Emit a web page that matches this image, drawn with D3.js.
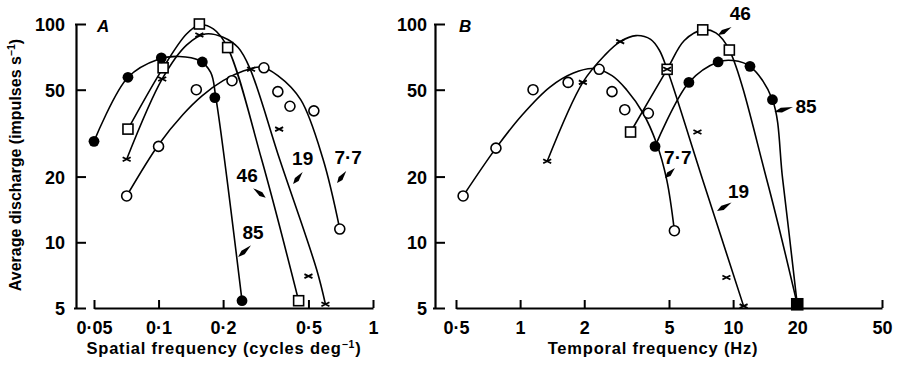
<!DOCTYPE html>
<html>
<head>
<meta charset="utf-8">
<script src="https://cdn.jsdelivr.net/npm/d3@7"></script>
<style>
  html, body { margin: 0; padding: 0; background: #fff; }
  svg { display: block; }
  text { font-family: "Liberation Sans", Arial, Helvetica, sans-serif; font-weight: bold; fill: #000; }
</style>
</head>
<body>
<script>
// ---------------- DATA ----------------
const aXTicks = [0.05, 0.1, 0.2, 0.5, 1];
const bXTicks = [0.5, 1, 2, 5, 10, 20, 50];
const yTicks = [5, 10, 20, 50, 100];

// Panel A: spatial frequency (cycles deg^-1) vs average discharge (impulses s^-1)
const aSF85 = [0.05, 0.072, 0.103, 0.16, 0.183, 0.245];
const aR85  = [29, 57, 70, 67, 46, 5.4];
const aSF46 = [0.072, 0.105, 0.155, 0.21, 0.45];
const aR46  = [33, 63, 100, 78, 5.4];
const aSF19 = [0.071, 0.104, 0.155, 0.27, 0.365, 0.5, 0.6];
const aR19  = [24, 56, 89, 62, 33, 7, 5.2];
const aSF77 = [0.071, 0.1, 0.15, 0.22, 0.31, 0.36, 0.41, 0.53, 0.7];
const aR77  = [16.3, 27.5, 50, 55, 63, 49, 42, 40, 11.5];

// hand-fitted curves
const aFitX85 = [0.05, 0.072, 0.1, 0.125, 0.155, 0.175, 0.185, 0.245];
const aFitY85 = [29, 57, 69, 71, 68, 60, 46, 5.4];
const aFitX46 = [0.072, 0.105, 0.135, 0.155, 0.18, 0.21, 0.303, 0.45];
const aFitY46 = [33, 63, 90, 99, 95, 78, 23.8, 5.4];
const aFitX19 = [0.071, 0.104, 0.135, 0.165, 0.2, 0.235, 0.266, 0.368, 0.546, 0.6];
const aFitY19 = [24, 56, 80, 90, 87, 78, 63, 23.8, 7.5, 5.2];
const aFitX77 = [0.071, 0.1, 0.13, 0.16, 0.2, 0.25, 0.3, 0.36, 0.46, 0.585, 0.7];
const aFitY77 = [16.3, 28, 38.5, 47, 55, 61, 63.5, 58, 45, 24, 11.5];

// Panel B: temporal frequency (Hz)
const bTF77 = [0.54, 0.77, 1.15, 1.68, 2.35, 2.7, 3.1, 4.0, 5.3];
const bR77  = [16.3, 27, 50, 54, 62, 49, 40.5, 39, 11.3];
const bTF19 = [1.34, 1.97, 2.95, 4.9, 6.8, 9.3, 11.2];
const bR19  = [23.5, 54, 83, 62, 32, 6.9, 5.1];
const bTF46 = [3.3, 4.9, 7.2, 9.6, 20];
const bR46  = [32, 62, 94, 76, 5.2];
const bTF85 = [4.3, 6.2, 8.5, 12, 15.3, 20];
const bR85  = [27.5, 54, 67, 64, 45, 5.2];

const bFitX77 = [0.54, 0.77, 1.02, 1.38, 1.78, 2.2, 2.7, 3.16, 3.78, 4.37, 4.88, 5.3];
const bFitY77 = [16.3, 27, 38.2, 51.4, 59.6, 62.5, 58, 50, 39, 28.4, 19.3, 11.3];
const bFitX19 = [1.34, 1.97, 2.5, 2.95, 3.5, 4.1, 4.5, 4.9, 7.2, 11.2];
const bFitY19 = [23.5, 54, 72, 83, 88.5, 85, 76, 62, 19.3, 5.1];
const bFitX46 = [3.3, 4.9, 5.9, 7.2, 8.3, 9.6, 14.4, 20];
const bFitY46 = [32, 62, 84, 94, 91, 76, 19.3, 5.2];
const bFitX85 = [4.3, 6.2, 8.5, 10, 12, 15.3, 17.1, 20];
const bFitY85 = [27.5, 54, 67, 68, 64, 45, 19.3, 5.2];

// curve labels: text, label centre, pointer from (x1,y1) to (x2,y2) — in data units
const aLabels = ["85", "46", "19", "7·7"];
const aLabelX = [0.276, 0.259, 0.47, 0.766];
const aLabelY = [11.1, 20.3, 24.4, 24.6];
const aPtrX1 = [0.27, 0.276, 0.47, 0.75];
const aPtrY1 = [9.7, 17.7, 21.0, 21.2];
const aPtrX2 = [0.235, 0.316, 0.424, 0.68];
const aPtrY2 = [8.57, 16.0, 18.5, 18.7];

const bLabels = ["46", "85", "7·7", "19"];
const bLabelX = [10.8, 22.0, 5.5, 10.6];
const bLabelY = [112, 42.1, 24.6, 17.2];
const bPtrX1 = [9.83, 19.1, 5.33, 9.83];
const bPtrY1 = [96.9, 41.7, 21.9, 15.2];
const bPtrX2 = [8.49, 15.6, 4.79, 8.4];
const bPtrY2 = [89.0, 39.5, 19.7, 13.9];

// ---------------- DRAW ----------------
const W = 901, H = 365;
const svg = d3.select("body").append("svg").attr("width", W).attr("height", H);

const y = d3.scaleLog().domain([5, 100]).range([308, 24]);
const fmt = d => String(d).replace(".", "·");
const zip = (xs, ys) => xs.map((v, i) => [v, ys[i]]);

const panels = [
  {
    x: d3.scaleLog().domain([0.05, 1]).range([94, 373]),
    xTicks: aXTicks, yAxisX: 76, yPad: 11, letter: "A",
    title: "Spatial frequency (cycles deg", titleSup: "−1", titleEnd: ")", titleX: 224,
    series: [
      {pts: zip(aSF77, aR77), fit: zip(aFitX77, aFitY77), sym: "openCircle"},
      {pts: zip(aSF46, aR46), fit: zip(aFitX46, aFitY46), sym: "openSquare"},
      {pts: zip(aSF85, aR85), fit: zip(aFitX85, aFitY85), sym: "filledCircle"},
      {pts: zip(aSF19, aR19), fit: zip(aFitX19, aFitY19), sym: "cross"}
    ],
    labels: aLabels.map((t, i) => ({t, x: aLabelX[i], y: aLabelY[i], x1: aPtrX1[i], y1: aPtrY1[i], x2: aPtrX2[i], y2: aPtrY2[i]}))
  },
  {
    x: d3.scaleLog().domain([0.5, 50]).range([456, 882]),
    xTicks: bXTicks, yAxisX: 435, yPad: 8, letter: "B",
    title: "Temporal frequency (Hz)", titleSup: "", titleEnd: "", titleX: 653,
    series: [
      {pts: zip(bTF77, bR77), fit: zip(bFitX77, bFitY77), sym: "openCircle"},
      {pts: zip(bTF46, bR46), fit: zip(bFitX46, bFitY46), sym: "openSquare"},
      {pts: zip(bTF85, bR85), fit: zip(bFitX85, bFitY85), sym: "filledCircle"},
      {pts: zip(bTF19, bR19), fit: zip(bFitX19, bFitY19), sym: "cross"}
    ],
    labels: bLabels.map((t, i) => ({t, x: bLabelX[i], y: bLabelY[i], x1: bPtrX1[i], y1: bPtrY1[i], x2: bPtrX2[i], y2: bPtrY2[i]}))
  }
];

function coincidentSquare(p, d) {
  const sq = p.series.find(s => s.sym === "openSquare").pts;
  return sq.some(f => f[0] === d[0] && f[1] === d[1]);
}

panels.forEach(p => {
  const g = svg.append("g");
  const x = p.x;

  const ya = g.append("g").attr("transform", `translate(${p.yAxisX},0)`)
    .call(d3.axisLeft(y).tickValues(yTicks).tickFormat(fmt).tickSize(-10).tickSizeOuter(0).tickPadding(p.yPad));
  const xa = g.append("g").attr("transform", `translate(0,308)`)
    .call(d3.axisBottom(x).tickValues(p.xTicks).tickFormat(fmt).tickSize(-8).tickSizeOuter(0).tickPadding(13));
  [ya, xa].forEach(a => {
    a.select(".domain").attr("stroke", "#000").attr("stroke-width", 2.2);
    a.selectAll(".tick line").attr("stroke", "#000").attr("stroke-width", 2);
    a.selectAll(".tick text").style("font-size", "18px").style("font-weight", "bold")
      .style("font-family", '"Liberation Sans", Arial, sans-serif').attr("fill", "#000");
  });
  ya.selectAll(".tick text").attr("dy", "0.36em");
  ya.selectAll(".tick").filter(d => d === 5).select("line").attr("x1", -2);
  ya.selectAll(".tick").filter(d => d === 100).select("line").attr("x1", -1);
  xa.selectAll(".tick").filter((d, i) => i === 0).select("line").attr("y1", 1);

  g.append("text").attr("x", x(p.xTicks[0]) + 3).attr("y", 32)
    .style("font-size", "17px").style("font-style", "italic").text(p.letter);

  const t = g.append("text").attr("x", p.titleX).attr("y", 354).attr("text-anchor", "middle")
    .style("font-size", "16.5px").style("letter-spacing", "0.8px");
  t.append("tspan").text(p.title);
  if (p.titleSup) {
    t.append("tspan").attr("dy", -6).style("font-size", "10.5px").text(p.titleSup);
    t.append("tspan").attr("dy", 6).text(p.titleEnd);
  }

  const line = d3.line().x(d => x(d[0])).y(d => y(d[1])).curve(d3.curveCatmullRom.alpha(0.5));
  p.series.forEach(s => {
    g.append("path").attr("d", line(s.fit)).attr("fill", "none")
      .attr("stroke", "#000").attr("stroke-width", 1.6);
  });

  const filledPts = p.series.find(s => s.sym === "filledCircle").pts;
  const coincident = d => filledPts.some(f => f[0] === d[0] && f[1] === d[1]);
  ["openSquare", "openCircle", "filledCircle", "cross"].forEach(sym => {
    const s = p.series.find(q => q.sym === sym);
    s.pts.forEach(d => {
      const cx = x(d[0]), cy = y(d[1]);
      if (sym === "openCircle") {
        g.append("circle").attr("cx", cx).attr("cy", cy).attr("r", 5)
          .attr("fill", "#fff").attr("stroke", "#000").attr("stroke-width", 1.6);
      } else if (sym === "filledCircle") {
        if (coincidentSquare(p, d)) return;
        g.append("circle").attr("cx", cx).attr("cy", cy).attr("r", 5.4).attr("fill", "#000");
      } else if (sym === "openSquare") {
        const filled = coincident(d);
        const sz = filled ? 11 : 10;
        g.append("rect").attr("x", cx - sz / 2).attr("y", cy - sz / 2).attr("width", sz).attr("height", sz)
          .attr("fill", filled ? "#000" : "#fff").attr("stroke", "#000").attr("stroke-width", 1.6);
      } else if (sym === "cross") {
        g.append("path").attr("d", `M${cx - 4},${cy - 2}L${cx + 4},${cy + 2}M${cx - 4},${cy + 2}L${cx + 4},${cy - 2}`)
          .attr("stroke", "#000").attr("stroke-width", 1.8).attr("fill", "none");
      }
    });
  });

  p.labels.forEach(l => {
    g.append("text").attr("x", x(l.x)).attr("y", y(l.y)).attr("text-anchor", "middle")
      .attr("dy", "0.36em").style("font-size", "19px").text(l.t);
    const x1 = x(l.x1), y1 = y(l.y1), x2 = x(l.x2), y2 = y(l.y2);
    const dx = x2 - x1, dy = y2 - y1, len = Math.hypot(dx, dy);
    const nx = -dy / len, ny = dx / len, w = 2.4;
    const mx = x1 + dx * 0.62, my = y1 + dy * 0.62;
    g.append("path")
      .attr("d", `M${x1},${y1}L${mx + nx * w},${my + ny * w}L${x2},${y2}L${mx - nx * w},${my - ny * w}Z`)
      .attr("fill", "#000");
  });
});

const yt = svg.append("text").attr("transform", "translate(21,165) rotate(-90)")
  .attr("text-anchor", "middle").style("font-size", "16px");
yt.append("tspan").text("Average discharge (impulses s");
yt.append("tspan").attr("dy", -6).style("font-size", "10.5px").text("−1");
yt.append("tspan").attr("dy", 6).text(")");
</script>
</body>
</html>
